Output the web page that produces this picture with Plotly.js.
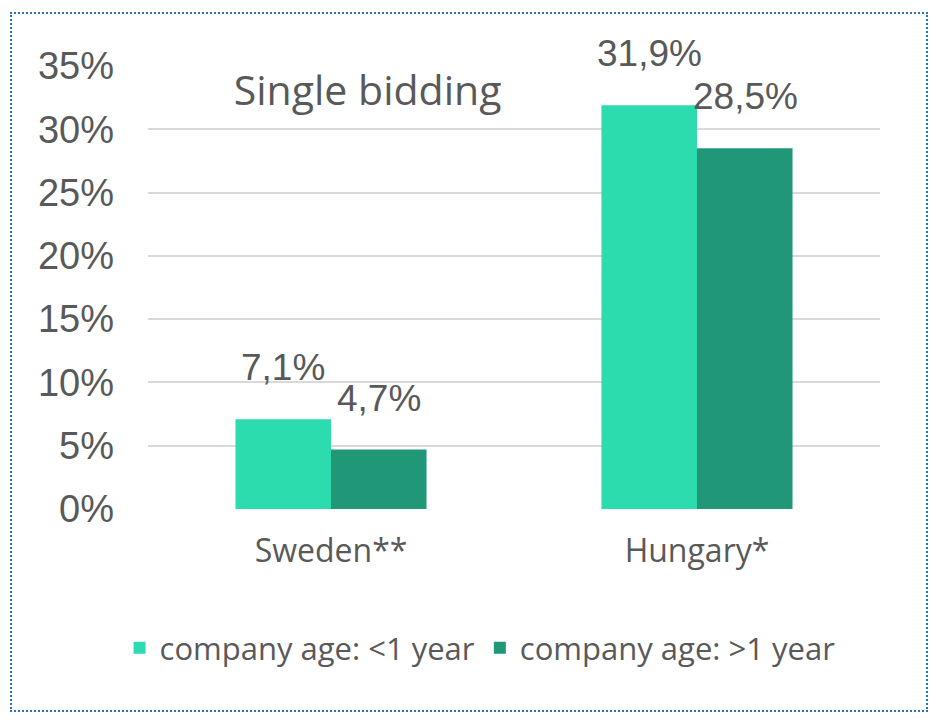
<!DOCTYPE html>
<html><head><meta charset="utf-8">
<script src="https://cdn.plot.ly/plotly-3.0.1.min.js"></script>
<style>
html,body{margin:0;padding:0;background:#fff;}
#wrap{position:relative;width:938px;height:723px;}
#chart{position:absolute;left:0;top:0;width:938px;height:723px;}
#frame{position:absolute;left:10px;top:12px;width:914px;height:696px;border:2px dotted #2a72b2;pointer-events:none;}
</style></head>
<body>
<div id="wrap"><div id="chart"></div><div id="frame"></div></div>
<script>
const categories = ['Sweden**', 'Hungary*'];
const seriesNames = ['company age: <1 year', 'company age: >1 year'];
const youngValues = [7.1, 31.9];
const olderValues = [4.7, 28.5];
const yTickVals = [0, 5, 10, 15, 20, 25, 30, 35];
const yTickText = ['0%', '5%', '10%', '15%', '20%', '25%', '30%', '35%'];
const colors = ['#2ddcae', '#209878'];
const chartTitle = 'Single bidding';

const fmt = v => v.toFixed(1).replace('.', ',') + '%';

const traces = [
  {type:'bar', name:seriesNames[0], x:categories, y:youngValues, marker:{color:colors[0]}, hoverinfo:'none'},
  {type:'bar', name:seriesNames[1], x:categories, y:olderValues, marker:{color:colors[1]}, hoverinfo:'none'}
];

const annotations = [];
[youngValues, olderValues].forEach((vals, si) => {
  vals.forEach((v, ci) => {
    annotations.push({
      x: categories[ci], y: v, xref:'x', yref:'y',
      text: fmt(v), showarrow:false,
      xanchor:'center', yanchor:'bottom',
      xshift: si === 0 ? -48 : 48, yshift: 29,
      font:{family:'Liberation Sans, Arial, sans-serif', size:37, color:'#595959'}
    });
  });
});

const layout = {
  width:938, height:723,
  margin:{l:148, r:58, t:66, b:214},
  paper_bgcolor:'#fff', plot_bgcolor:'#fff',
  barmode:'group', bargap:0.478, bargroupgap:0,
  title:{text:chartTitle, xref:'paper', x:0.30, xanchor:'center', yref:'container', y:0.875, yanchor:'middle',
         font:{family:'Open Sans, sans-serif', size:41, color:'#595959'}},
  xaxis:{type:'category', showgrid:false, zeroline:false, showline:false, ticks:'',
         ticklabelstandoff:20,
         tickfont:{family:'Open Sans, sans-serif', size:32, color:'#595959'}},
  yaxis:{range:[0,35], tickvals:yTickVals, ticktext:yTickText, showgrid:true,
         gridcolor:'#d9d9d9', gridwidth:2, zeroline:false, showline:false, ticks:'',
         ticklabelstandoff:33,
         tickfont:{family:'Liberation Sans, Arial, sans-serif', size:38, color:'#595959'}},
  showlegend:true,
  legend:{orientation:'h', xref:'paper', yref:'paper', x:0.4536, xanchor:'center', y:-0.314, yanchor:'middle',
          font:{family:'Open Sans, sans-serif', size:31, color:'#595959'}, itemwidth:30, traceorder:'normal'},
  annotations:annotations
};

Plotly.newPlot('chart', traces, layout, {displayModeBar:false, staticPlot:true});
</script>
</body></html>
